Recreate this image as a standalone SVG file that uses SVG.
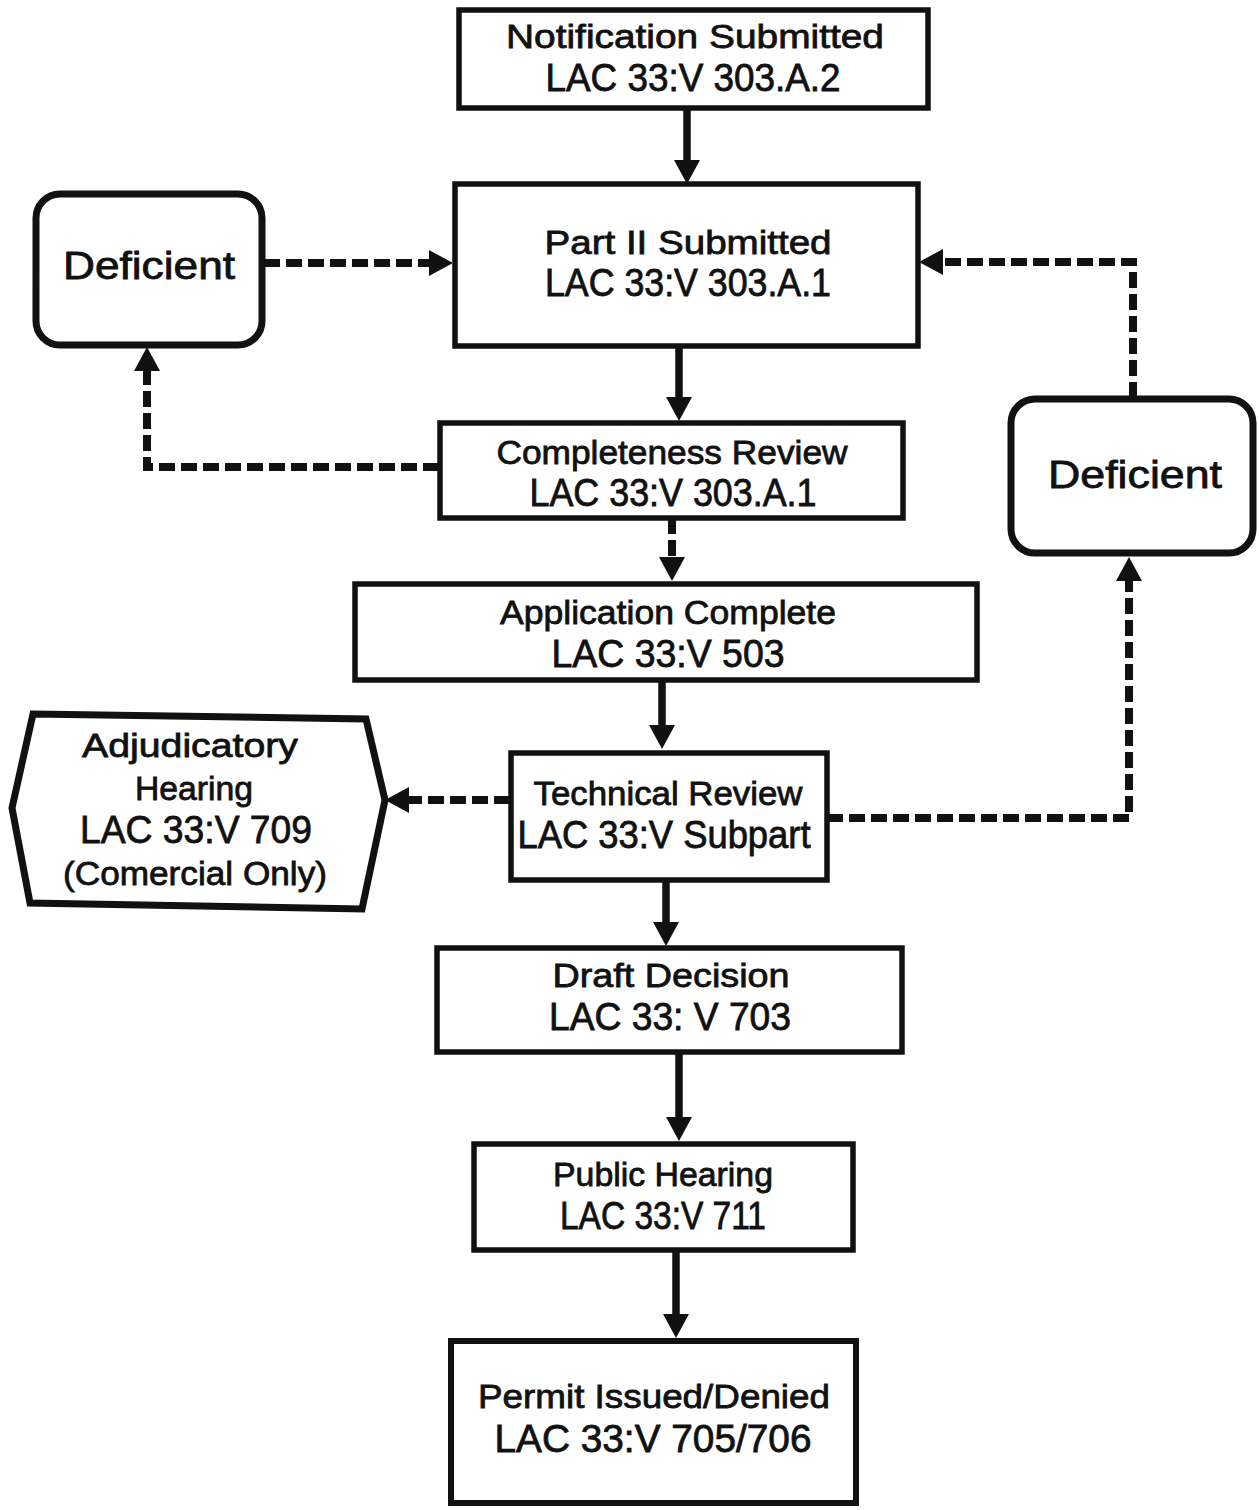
<svg xmlns="http://www.w3.org/2000/svg" width="1259" height="1510" viewBox="0 0 1259 1510">
<style>
.box{fill:#fff;stroke:#111;stroke-width:5.5}
.rbox{fill:#fff;stroke:#111;stroke-width:7}
.t{font-family:"Liberation Sans",Arial,sans-serif;fill:#111;stroke:#111;stroke-width:0.8;text-anchor:middle}
.s1{font-size:34px}
.s2{font-size:38px}
.solid{fill:none;stroke:#111;stroke-width:7.5}
.dash{fill:none;stroke:#111;stroke-width:8;stroke-dasharray:16 6}
</style>
<defs>
<marker id="ah" markerUnits="userSpaceOnUse" markerWidth="24" markerHeight="26" viewBox="0 -13 24 26" refX="1" refY="0" orient="auto" overflow="visible">
<path d="M0,-13 L24,0 L0,13 Z" fill="#111"/>
</marker>
</defs>
<rect width="1259" height="1510" fill="#fff"/>

<g id="connectors">
<path class="solid" d="M687,108 V161" marker-end="url(#ah)"/>
<path class="solid" d="M679,346 V398" marker-end="url(#ah)"/>
<path class="dash" d="M672,518 V558" marker-end="url(#ah)"/>
<path class="solid" d="M662,680 V726" marker-end="url(#ah)"/>
<path class="solid" d="M666,880 V923" marker-end="url(#ah)"/>
<path class="solid" d="M679,1052 V1118" marker-end="url(#ah)"/>
<path class="solid" d="M676,1250 V1315" marker-end="url(#ah)"/>
<path class="dash" d="M264,263 H430" marker-end="url(#ah)"/>
<path class="dash" d="M439,467 H147 V370" marker-end="url(#ah)"/>
<path class="dash" d="M1133,398 V262 H942" marker-end="url(#ah)"/>
<path class="dash" d="M827,818 H1129 V580" marker-end="url(#ah)"/>
<path class="dash" d="M510,800 H408" marker-end="url(#ah)"/>
</g>

<g id="notification">
<rect class="box" x="459" y="10" width="469" height="98"/>
<text class="t s1" x="695" y="48" textLength="378" lengthAdjust="spacingAndGlyphs">Notification Submitted</text>
<text class="t s2" x="693" y="91" textLength="295" lengthAdjust="spacingAndGlyphs">LAC 33:V 303.A.2</text>
</g>

<g id="part2">
<rect class="box" x="455" y="184" width="463" height="162"/>
<text class="t s1" x="688" y="254" textLength="287" lengthAdjust="spacingAndGlyphs">Part II Submitted</text>
<text class="t s2" x="688" y="296" textLength="286" lengthAdjust="spacingAndGlyphs">LAC 33:V 303.A.1</text>
</g>

<g id="deficient-left">
<rect class="rbox" x="36" y="194" width="226" height="151" rx="24"/>
<text class="t s2" x="149" y="279" textLength="172" lengthAdjust="spacingAndGlyphs">Deficient</text>
</g>

<g id="completeness">
<rect class="box" x="440" y="423" width="463" height="95"/>
<text class="t s1" x="672" y="464" textLength="351" lengthAdjust="spacingAndGlyphs">Completeness Review</text>
<text class="t s2" x="673" y="506" textLength="287" lengthAdjust="spacingAndGlyphs">LAC 33:V 303.A.1</text>
</g>

<g id="application">
<rect class="box" x="355" y="584" width="622" height="96"/>
<text class="t s1" x="668" y="624" textLength="336" lengthAdjust="spacingAndGlyphs">Application Complete</text>
<text class="t s2" x="668" y="667" textLength="233" lengthAdjust="spacingAndGlyphs">LAC 33:V 503</text>
</g>

<g id="deficient-right">
<rect class="rbox" x="1011" y="399" width="242" height="154" rx="24"/>
<text class="t s2" x="1135" y="488" textLength="174" lengthAdjust="spacingAndGlyphs">Deficient</text>
</g>

<g id="technical">
<rect class="box" x="511" y="753" width="316" height="127"/>
<text class="t s1" x="668" y="805" textLength="269" lengthAdjust="spacingAndGlyphs">Technical Review</text>
<text class="t s2" x="664" y="848" textLength="293" lengthAdjust="spacingAndGlyphs">LAC 33:V Subpart</text>
</g>

<g id="adjudicatory">
<polygon class="rbox" points="33,714 366,719 385,800 362,909 30,903 12,808"/>
<text class="t s1" x="190" y="757" textLength="216" lengthAdjust="spacingAndGlyphs">Adjudicatory</text>
<text class="t s1" x="194" y="800" textLength="118" lengthAdjust="spacingAndGlyphs">Hearing</text>
<text class="t s2" x="196" y="843" textLength="232" lengthAdjust="spacingAndGlyphs">LAC 33:V 709</text>
<text class="t s1" x="195" y="885" textLength="264" lengthAdjust="spacingAndGlyphs">(Comercial Only)</text>
</g>

<g id="draft">
<rect class="box" x="437" y="948" width="465" height="104"/>
<text class="t s1" x="671" y="987" textLength="237" lengthAdjust="spacingAndGlyphs">Draft Decision</text>
<text class="t s2" x="670" y="1030" textLength="242" lengthAdjust="spacingAndGlyphs">LAC 33: V 703</text>
</g>

<g id="public">
<rect class="box" x="474" y="1144" width="379" height="106"/>
<text class="t s1" x="663" y="1186" textLength="220" lengthAdjust="spacingAndGlyphs">Public Hearing</text>
<text class="t s2" x="663" y="1229" textLength="206" lengthAdjust="spacingAndGlyphs">LAC 33:V 711</text>
</g>

<g id="permit">
<rect class="box" x="451" y="1341" width="405" height="162" style="stroke-width:6"/>
<text class="t s1" x="654" y="1408" textLength="352" lengthAdjust="spacingAndGlyphs">Permit Issued/Denied</text>
<text class="t s2" x="653" y="1452" textLength="317" lengthAdjust="spacingAndGlyphs">LAC 33:V 705/706</text>
</g>
</svg>
